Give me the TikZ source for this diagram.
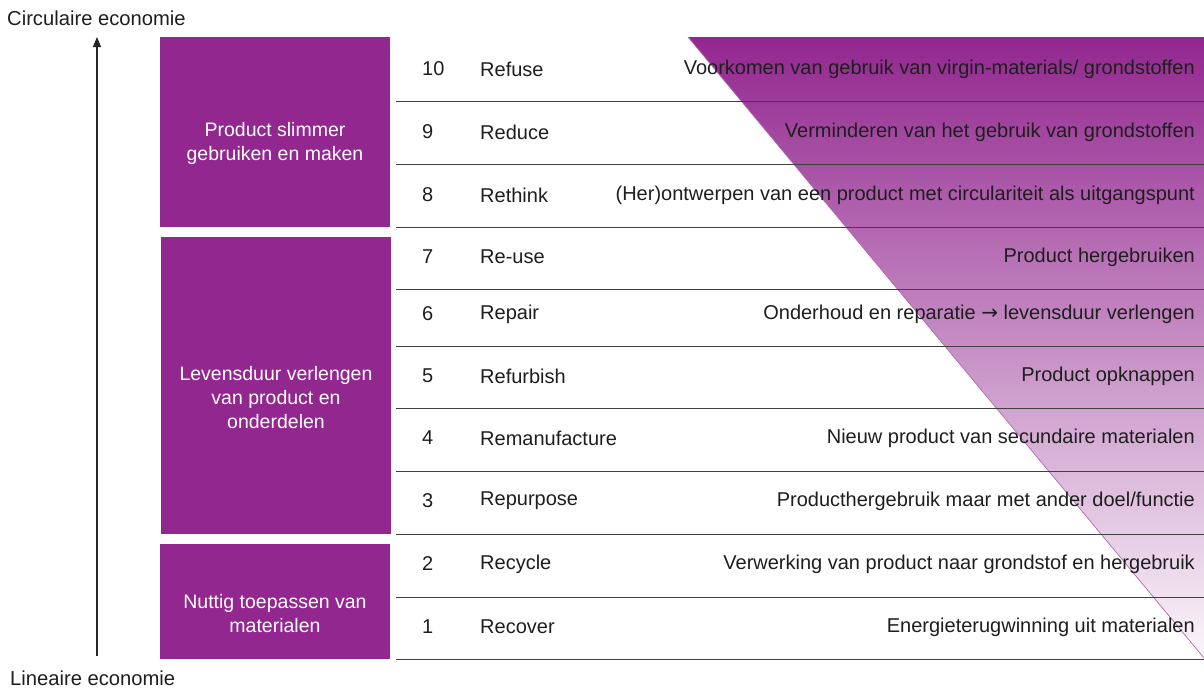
\documentclass[tikz,border=0pt]{standalone}
\usepackage{fontspec}
\setmainfont{Liberation Sans}
\newfontfamily\arrowfont{DejaVu Sans}
\usetikzlibrary{arrows.meta}

\definecolor{cepurple}{RGB}{146,39,143}
\definecolor{ink}{RGB}{30,30,30}

\begin{document}
\begin{tikzpicture}[
  x=1pt, y=-1pt,
  group/.style={fill=cepurple, draw=none, inner sep=0pt},
  grouptext/.style={text=white, align=center, font=\fontsize{19.5}{24}\selectfont},
  rownum/.style={text=ink, anchor=west, inner sep=0pt, font=\fontsize{20}{22}\selectfont},
  rowname/.style={text=ink, anchor=west, inner sep=0pt, font=\fontsize{20}{22}\selectfont},
  rowdesc/.style={text=ink, anchor=east, inner sep=0pt, font=\fontsize{20}{22}\selectfont},
  rowline/.style={draw=black!75, line width=1pt},
  axis/.style={font=\fontsize{20.2}{22}\selectfont, text=ink, anchor=west, inner sep=0pt},
]
  \useasboundingbox (0,0) rectangle (1204,688);

  % axis from linear to circular
  \node[axis] (circ) at (7,18) {Circulaire economie};
  \node[axis] (lin) at (10,678) {Lineaire economie};
  \coordinate (axtop) at (97,37);
  \coordinate (axbot) at (97,656);
  \draw[black!85, line width=1.1pt, -{Triangle[length=10pt,width=8pt]}] (axbot) -- (axtop);

  % the three groups
  \node[group, minimum width=230pt, minimum height=190pt] (grp1) at (275,132) {};
  \node[group, minimum width=230pt, minimum height=297pt] (grp2) at (276,385.5) {};
  \node[group, minimum width=230pt, minimum height=115pt] (grp3) at (275,601.5) {};
  \node[grouptext] (grp1txt) at ([yshift=-11pt]grp1.center) {Product slimmer\\gebruiken en maken};
  \node[grouptext] (grp2txt) at ([yshift=-12pt]grp2.center) {Levensduur verlengen\\van product en\\onderdelen};
  \node[grouptext] (grp3txt) at ([yshift=-12pt]grp3.center) {Nuttig toepassen van\\materialen};

  % fading wedge behind the descriptions
  \shade[top color=cepurple, bottom color=cepurple!4]
    (688,37) -- (1204,37) -- (1204,658) -- cycle;
  \draw[cepurple!70, line width=0.7pt] (688,37) -- (1204,658);

  \foreach \y in {101,164,227,289,346,408,471,534,597,659}
    \draw[rowline] (396,\y) -- (1204,\y);

  % R-ladder
  \foreach \k/\nm/\ds/\y in {
      10/Refuse/{Voorkomen van gebruik van virgin-materials/ grondstoffen}/69,
      9/Reduce/{Verminderen van het gebruik van grondstoffen}/132,
      8/Rethink/{(Her)ontwerpen van een product met circulariteit als uitgangspunt}/195,
      7/Re-use/{Product hergebruiken}/257,
      6/Repair/{Onderhoud en reparatie {\arrowfont→} levensduur verlengen}/314,
      5/Refurbish/{Product opknappen}/376,
      4/Remanufacture/{Nieuw product van secundaire materialen}/438,
      3/Repurpose/{Producthergebruik maar met ander doel/functie}/501,
      2/Recycle/{Verwerking van product naar grondstof en hergebruik}/564,
      1/Recover/{Energieterugwinning uit materialen}/627} {
    \node[rownum] (num\k) at (422,\y) {\k};
    \node[rowname] (name\k) at (480,\y) {\nm};
    \node[rowdesc] (desc\k) at (1195,\y) {\ds};
  }
\end{tikzpicture}
\end{document}
